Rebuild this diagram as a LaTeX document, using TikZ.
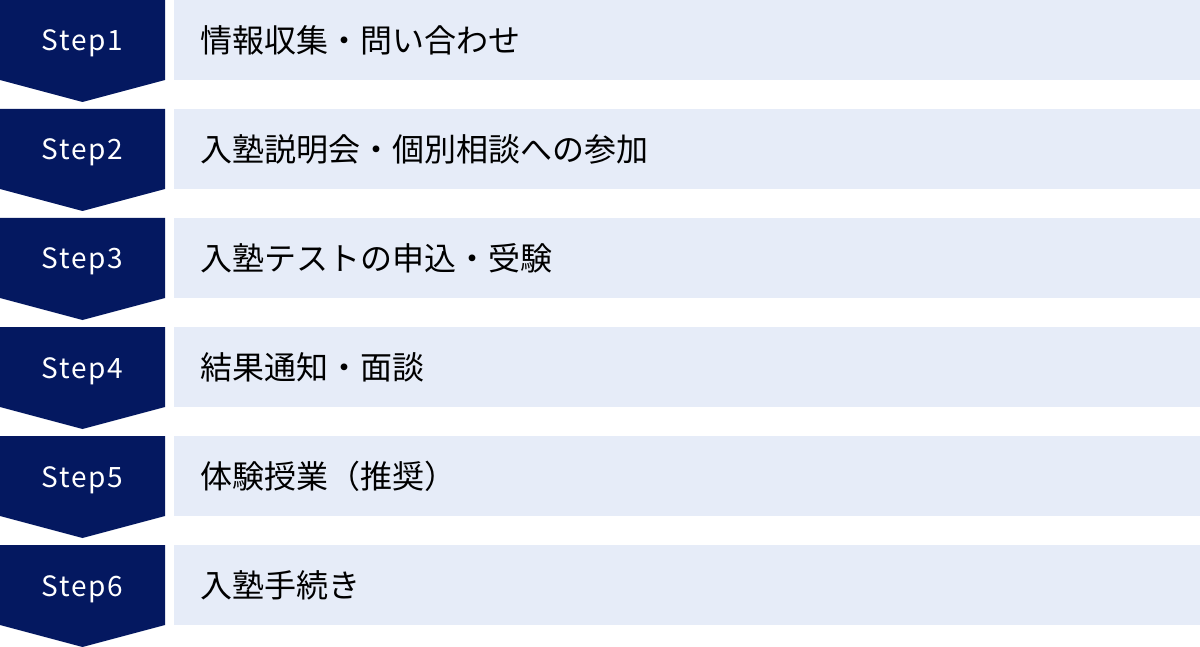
\documentclass[tikz,border=0pt]{standalone}
\usepackage{fontspec}
\setmainfont{Noto Sans CJK JP}
\newfontfamily\stepfont[LetterSpace=6.5]{Noto Sans CJK JP}
\definecolor{stepnavy}{RGB}{4,24,96}
\definecolor{rowblue}{RGB}{230,236,248}

\begin{document}
\begin{tikzpicture}[x=1pt,y=1pt]
			\tikzstyle{every node}+=[inner sep=0pt]
			\tikzstyle{steplabel}=[text=white,anchor=base,font=\stepfont\fontsize{28}{32}\selectfont]
			\tikzstyle{rowlabel}=[text=black,anchor=west,font=\fontsize{32}{36}\selectfont]
			\useasboundingbox (0,0) rectangle (1200,-647);
			\fill [rowblue] (174,0) rectangle (1200,-80);
			\fill [rowblue] (174,-109) rectangle (1200,-189);
			\fill [rowblue] (174,-218) rectangle (1200,-298);
			\fill [rowblue] (174,-327) rectangle (1200,-407);
			\fill [rowblue] (174,-436) rectangle (1200,-516);
			\fill [rowblue] (174,-545) rectangle (1200,-625);
			\fill [stepnavy] (0,0) -- (165,0) -- (165,-80) -- (82.5,-102) -- (0,-80) -- cycle;
			\fill [stepnavy] (0,-109) -- (165,-109) -- (165,-189) -- (82.5,-211) -- (0,-189) -- cycle;
			\fill [stepnavy] (0,-218) -- (165,-218) -- (165,-298) -- (82.5,-320) -- (0,-298) -- cycle;
			\fill [stepnavy] (0,-327) -- (165,-327) -- (165,-407) -- (82.5,-429) -- (0,-407) -- cycle;
			\fill [stepnavy] (0,-436) -- (165,-436) -- (165,-516) -- (82.5,-538) -- (0,-516) -- cycle;
			\fill [stepnavy] (0,-545) -- (165,-545) -- (165,-625) -- (82.5,-647) -- (0,-625) -- cycle;
			\node (step1) [steplabel] at (82.5,-51) {Step1};
			\node (step2) [steplabel] at (82.5,-160) {Step2};
			\node (step3) [steplabel] at (82.5,-269) {Step3};
			\node (step4) [steplabel] at (82.5,-378) {Step4};
			\node (step5) [steplabel] at (82.5,-487) {Step5};
			\node (step6) [steplabel] at (82.5,-596) {Step6};
			\node (task1) [rowlabel] at (200,-40) {情報収集・問い合わせ};
			\node (task2) [rowlabel] at (200,-149) {入塾説明会・個別相談への参加};
			\node (task3) [rowlabel] at (200,-258) {入塾テストの申込・受験};
			\node (task4) [rowlabel] at (200,-367) {結果通知・面談};
			\node (task5) [rowlabel] at (200,-476) {体験授業（推奨）};
			\node (task6) [rowlabel] at (200,-585) {入塾手続き};
			\end{tikzpicture}
\end{document}
